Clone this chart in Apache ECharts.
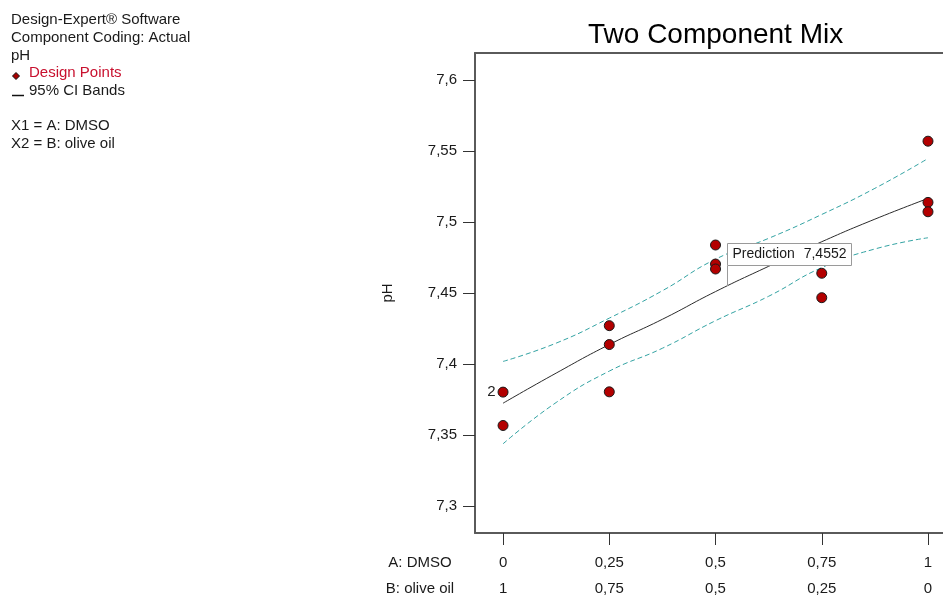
<!DOCTYPE html>
<html><head><meta charset="utf-8">
<script src="https://cdn.jsdelivr.net/npm/echarts@6/dist/echarts.min.js"></script>
<style>html,body{margin:0;padding:0;background:#fff}#c{width:943px;height:595px}</style>
</head><body><div id="c"></div>
<script>
// ---- data ----
const titleText = 'Two Component Mix';
const yAxisName = 'pH';
const infoLines = ['Design-Expert® Software', 'Component Coding: Actual', 'pH'];
const legendPoints = 'Design Points';
const legendBands = '95% CI Bands';
const factorLines = ['X1 = A: DMSO', 'X2 = B: olive oil'];
const rowNames = ['A: DMSO', 'B: olive oil'];
const yTicks = [7.3, 7.35, 7.4, 7.45, 7.5, 7.55, 7.6];
const xTicks = [0, 0.25, 0.5, 0.75, 1];
const dmsoLabels = ['0', '0,25', '0,5', '0,75', '1'];
const oliveLabels = ['1', '0,75', '0,5', '0,25', '0'];
const designDMSO = [0, 0, 0, 0.25, 0.25, 0.25, 0.5, 0.5, 0.5, 0.75, 0.75, 1, 1, 1];
const designPH = [7.3804, 7.3804, 7.3569, 7.4272, 7.4139, 7.3806, 7.4840, 7.4706, 7.4671, 7.4641, 7.4469, 7.5571, 7.5140, 7.5074];
const curveDMSO = [0, 0.125, 0.25, 0.375, 0.5, 0.625, 0.75, 0.875, 1];
const fitPH   = [7.3726, 7.3938, 7.4139, 7.4317, 7.4512, 7.4690, 7.4863, 7.5022, 7.5168];
const upperPH = [7.4020, 7.4149, 7.4325, 7.4518, 7.4740, 7.4887, 7.5055, 7.5239, 7.5449];
const lowerPH = [7.3440, 7.3731, 7.3952, 7.4113, 7.4307, 7.4479, 7.4681, 7.4812, 7.4891];
const predictionDMSO = 0.527;
const predictionPH = 7.4552;

// ---- build ----
const FONT = '"Liberation Sans", Arial, sans-serif';
const comma = v => String(+v.toFixed(4)).replace('.', ',');
const idxOf = (arr, v) => arr.findIndex(t => Math.abs(t - v) < 1e-9);

const pts = [];
designDMSO.forEach((x, i) => {
  const y = designPH[i];
  const found = pts.find(p => p.value[0] === x && p.value[1] === y);
  if (found) found.count++; else pts.push({ value: [x, y], count: 1 });
});
const curve = arr => curveDMSO.map((x, i) => [x, arr[i]]);

const chart = echarts.init(document.getElementById('c'), null, { renderer: 'canvas' });
const axisColor = '#5a5a5a';
const textColor = '#1a1a1a';

const graphics = [];
const infoY = [21, 39, 57];
infoLines.forEach((t, i) => graphics.push({ type: 'text', left: 11, top: infoY[i] - 9, style: { text: t, font: '15px ' + FONT, fill: textColor } }));
graphics.push({ type: 'text', left: 29, top: 74.5 - 9, style: { text: legendPoints, font: '15px ' + FONT, fill: '#c8102e' } });
graphics.push({ type: 'polygon', shape: { points: [[16, 72.5], [19.5, 76], [16, 79.5], [12.5, 76]] }, style: { fill: '#a80000', stroke: '#111', lineWidth: 1 } });
graphics.push({ type: 'line', shape: { x1: 12, y1: 95.5, x2: 24, y2: 95.5 }, style: { stroke: '#111', lineWidth: 1.5 } });
graphics.push({ type: 'text', left: 29, top: 92.5 - 9, style: { text: legendBands, font: '15px ' + FONT, fill: textColor } });
const facY = [127, 145];
factorLines.forEach((t, i) => graphics.push({ type: 'text', left: 11, top: facY[i] - 9, style: { text: t, font: '15px ' + FONT, fill: textColor } }));
const rowY = [563, 589];
rowNames.forEach((t, i) => graphics.push({ type: 'text', x: 420, y: rowY[i], style: { text: t, font: '15px ' + FONT, fill: textColor, align: 'center', verticalAlign: 'middle' } }));

chart.setOption({
  animation: false,
  backgroundColor: '#fff',
  title: { text: titleText, left: 583, top: 16, textStyle: { fontFamily: FONT, fontSize: 28, fontWeight: 'normal', color: '#000' } },
  grid: { left: 475, top: 53, right: 0, bottom: 62, containLabel: false, outerBoundsMode: 'none' },
  graphic: graphics,
  xAxis: [{
    type: 'value', min: -0.066, max: 1.0353, position: 'bottom',
    axisLine: { show: true, onZero: false, lineStyle: { color: axisColor, width: 2 } },
    axisTick: { show: true, customValues: xTicks, length: 12, lineStyle: { color: '#333', width: 1 } },
    axisLabel: {
      show: true, customValues: xTicks, margin: 17, fontFamily: FONT, fontSize: 15, color: textColor, lineHeight: 26,
      formatter: v => { const i = idxOf(xTicks, v); return i < 0 ? '' : dmsoLabels[i] + '\n' + oliveLabels[i]; }
    },
    splitLine: { show: false }
  }, {
    type: 'value', min: -0.066, max: 1.0353, position: 'top',
    axisLine: { show: true, onZero: false, lineStyle: { color: axisColor, width: 2 } },
    axisTick: { show: false }, axisLabel: { show: false }, splitLine: { show: false }
  }],
  yAxis: {
    type: 'value', min: 7.2812, max: 7.6192,
    name: yAxisName, nameLocation: 'middle', nameRotate: 90, nameGap: 80,
    nameTextStyle: { fontFamily: FONT, fontSize: 15, color: textColor },
    axisLine: { show: true, onZero: false, lineStyle: { color: axisColor, width: 2 } },
    axisTick: { show: true, customValues: yTicks, length: 12, lineStyle: { color: '#333', width: 1 } },
    axisLabel: { show: true, customValues: yTicks, margin: 18, fontFamily: FONT, fontSize: 15, color: textColor, formatter: v => comma(v) },
    splitLine: { show: false }
  },
  series: [
    { type: 'line', data: curve(upperPH), smooth: true, symbol: 'none', lineStyle: { color: '#33a3a3', width: 1, type: [5, 3] }, z: 2 },
    { type: 'line', data: curve(lowerPH), smooth: true, symbol: 'none', lineStyle: { color: '#33a3a3', width: 1, type: [5, 3] }, z: 2 },
    { type: 'line', data: curve(fitPH), smooth: true, symbol: 'none', lineStyle: { color: '#2b2b2b', width: 1 }, z: 3 },
    {
      type: 'scatter', data: pts, symbol: 'circle', symbolSize: 10,
      itemStyle: { color: '#b30000', borderColor: '#1a1a1a', borderWidth: 1, opacity: 1 },
      label: { show: true, position: 'left', distance: 2, fontFamily: FONT, fontSize: 15, color: '#222',
        formatter: p => p.data.count > 1 ? String(p.data.count) : '' },
      z: 5
    },
    {
      type: 'custom', data: [[predictionDMSO, predictionPH]], z: 10,
      renderItem: (params, api) => {
        const p = api.coord([api.value(0), api.value(1)]);
        const x = Math.round(p[0]) + 0.5;
        const y = Math.round(p[1]);
        return { type: 'group', children: [
          { type: 'line', shape: { x1: x, y1: y, x2: x, y2: y - 20 }, style: { stroke: '#9a9a9a', lineWidth: 1 } },
          { type: 'rect', shape: { x: x, y: y - 42.5, width: 124, height: 22 }, style: { fill: '#fff', stroke: '#9a9a9a', lineWidth: 1 } },
          { type: 'text', x: x + 5, y: y - 31.5, style: { text: 'Prediction', font: '14px ' + FONT, fill: textColor, verticalAlign: 'middle' } },
          { type: 'text', x: x + 119, y: y - 31.5, style: { text: comma(predictionPH), font: '14px ' + FONT, fill: textColor, align: 'right', verticalAlign: 'middle' } }
        ] };
      }
    }
  ]
});
</script></body></html>
